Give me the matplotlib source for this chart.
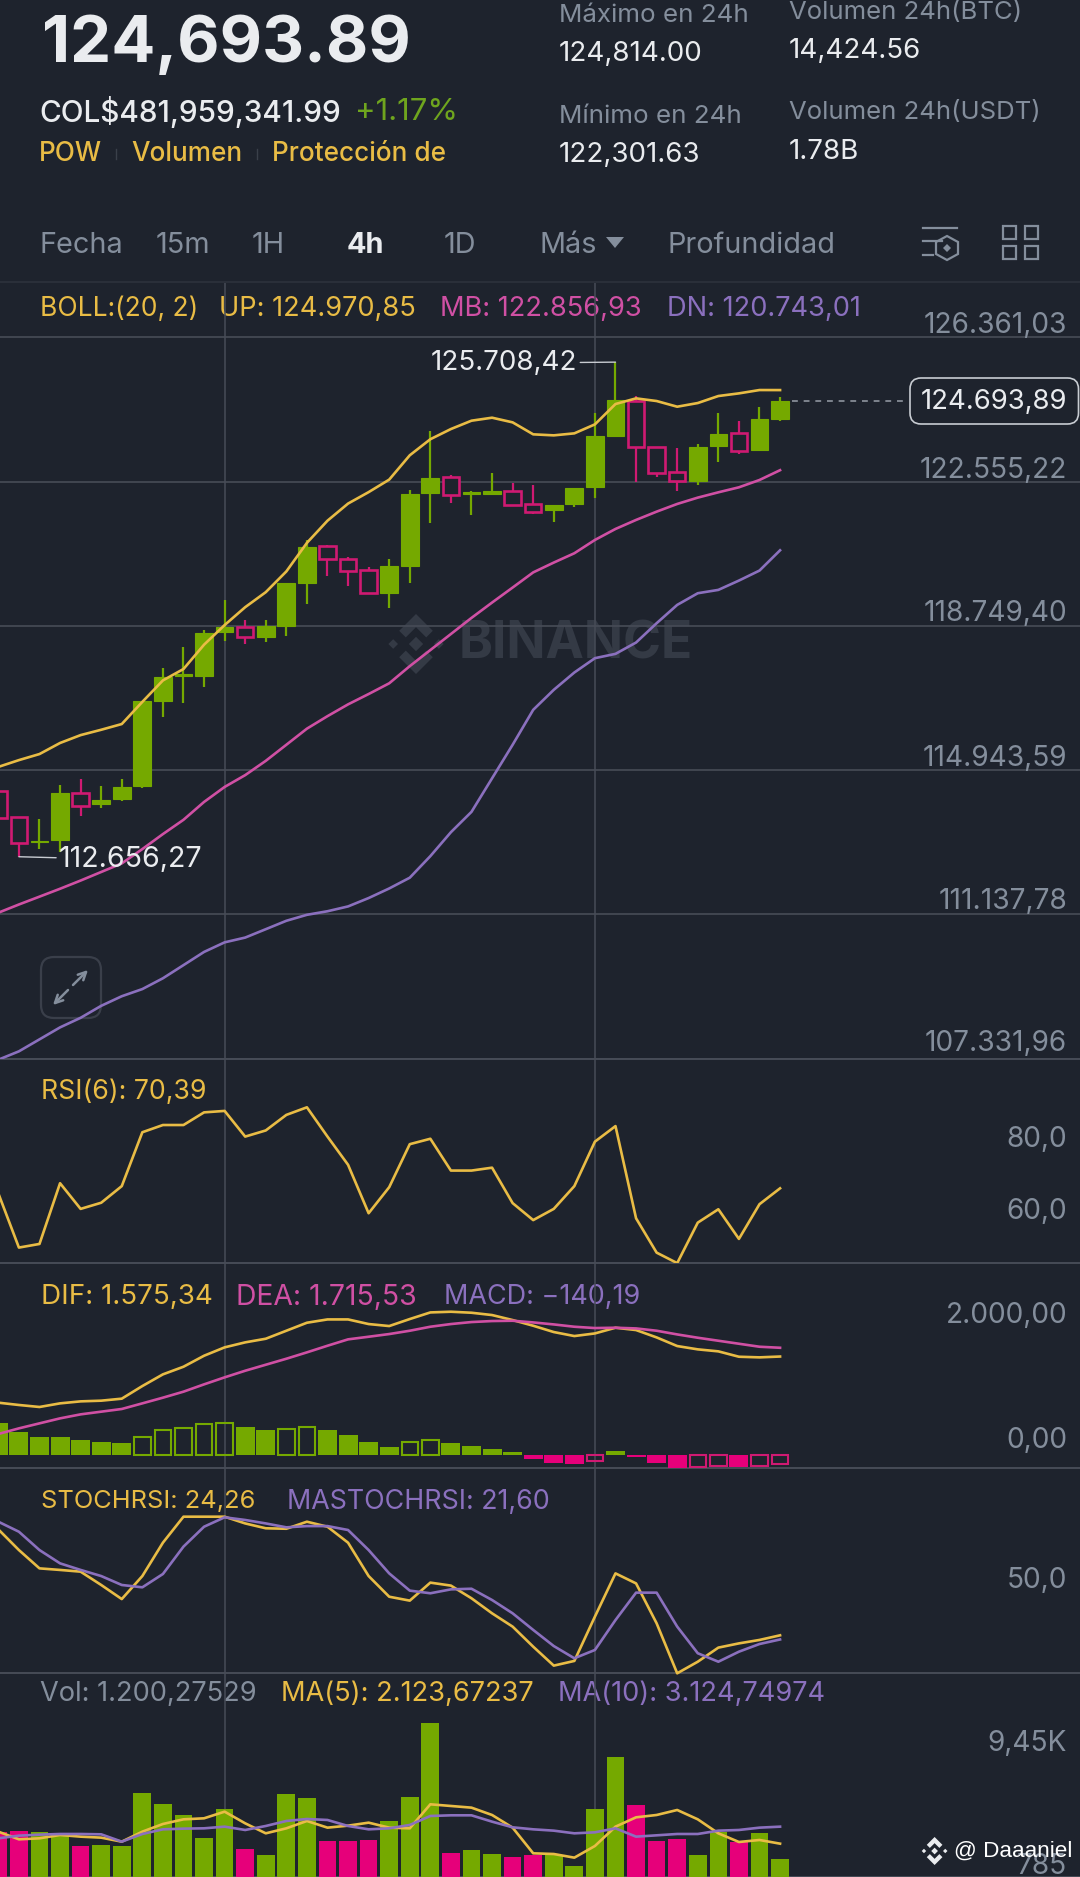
import numpy as np
import matplotlib
matplotlib.use("Agg")
import matplotlib.pyplot as plt
from matplotlib.patches import FancyBboxPatch, Polygon, Rectangle

plt.rcParams["font.family"] = ["Inter", "DejaVu Sans"]

W, H = 1080, 1877
BG = "#1E232D"
GRID = "#474C57"
GRAY = "#848E9C"
WHITE = "#EAECEF"
YELLOW = "#E9BC45"
PINK = "#D050A4"
PURPLE = "#8B70BE"
UP = "#75A900"
DOWN = "#E6007A"
DOWN_EDGE = "#CF1A72"

# candles, oldest first
opens = [114385, 113706, 113037, 113093, 114338, 114036, 114168, 114517, 116771, 117422,
         117422, 118582, 118723, 118468, 118742, 119892, 120845, 120515, 120232, 119619,
         120317, 122250, 122665, 122231, 122231, 122306, 121976, 121799, 121966, 122405,
         123768, 124682, 123477, 122801, 122581, 123486, 123838, 123390, 124216]
closes = [113678, 113018, 113084, 114329, 114008, 114150, 114508, 116771, 117393, 117469,
          118572, 118723, 118459, 118742, 119883, 120817, 120505, 120185, 119610, 120317,
          122240, 122646, 122193, 122278, 122297, 121929, 121741, 121948, 122388, 123759,
          124699, 123460, 122774, 122572, 123469, 123820, 123354, 124198, 124693.89]
highs = [114385, 113706, 113650, 114555, 114715, 114536, 114715, 116771, 117639, 118186,
         118629, 119430, 118893, 118912, 119883, 121005, 120892, 120553, 120298, 120515,
         122335, 123881, 122721, 122306, 122778, 122523, 122476, 121948, 122388, 124356,
         125708.42, 124814, 123477, 123434, 123539, 124356, 124154, 124515, 124796]
lows = [113678, 112656.27, 112858, 112782, 113744, 113952, 114121, 114480, 116347, 116715,
        117139, 118346, 118270, 118327, 118487, 119336, 120062, 119798, 119591, 119232,
        119874, 121458, 121986, 121665, 122193, 121910, 121694, 121500, 121878, 122133,
        123741, 122555, 122686, 122300, 122467, 123082, 123284, 123390, 124163]

boll_up = [115027, 115206, 115366, 115658, 115866, 116007, 116158, 116743, 117309, 117610,
           118252, 118770, 119242, 119638, 120185, 120939, 121524, 121976, 122278, 122608,
           123250, 123674, 123943, 124163, 124242, 124119, 123803, 123776, 123829, 124066,
           124603, 124752, 124682, 124532, 124629, 124814, 124884, 124972, 124970.85]
boll_mb = [111179, 111396, 111603, 111811, 112028, 112254, 112480, 112858, 113254, 113631,
           114102, 114498, 114810, 115187, 115611, 116036, 116366, 116677, 116950, 117233,
           117686, 118110, 118534, 118959, 119364, 119760, 120160, 120419, 120665, 121016,
           121306, 121544, 121763, 121966, 122133, 122273, 122405, 122598, 122856.93]
boll_dn = [107300, 107521, 107837, 108153, 108406, 108722, 108975, 109164, 109449, 109796,
           110144, 110397, 110523, 110744, 110966, 111124, 111218, 111345, 111566, 111819,
           112103, 112672, 113304, 113841, 114726, 115611, 116533, 117061, 117518, 117896,
           118010, 118309, 118819, 119302, 119610, 119698, 119944, 120208, 120743.01]
price_grid = [126361.03, 122555.22, 118749.40, 114943.59, 111137.78, 107331.96]

rsi = [69.0, 54.0, 55.0, 71.8, 64.7, 66.4, 71.0, 85.9, 87.9, 87.9,
       91.4, 91.8, 84.7, 86.4, 90.7, 92.8, 84.7, 76.9, 63.5, 70.7,
       82.6, 84.1, 75.3, 75.3, 76.1, 66.3, 61.6, 64.7, 71.0, 83.3,
       87.6, 62.1, 52.6, 49.7, 60.9, 64.6, 56.4, 66.0, 70.39]

dif = [837, 800, 768, 826, 858, 869, 901, 1103, 1290, 1412,
       1588, 1722, 1802, 1860, 1988, 2116, 2169, 2169, 2095, 2063,
       2175, 2281, 2292, 2276, 2239, 2159, 2068, 1967, 1903, 1945,
       2036, 1999, 1881, 1743, 1690, 1658, 1572, 1562, 1575.34]
dea = [336, 426, 506, 586, 650, 693, 736, 826, 917, 1013,
       1130, 1242, 1348, 1444, 1540, 1642, 1748, 1850, 1892, 1935,
       1988, 2052, 2095, 2127, 2143, 2148, 2121, 2089, 2052, 2031,
       2036, 2025, 1988, 1929, 1876, 1828, 1780, 1732, 1715.53]
macd = [506, 373, 282, 282, 235, 203, 187, 293, 400, 432,
        496, 506, 453, 400, 416, 442, 394, 320, 203, 133,
        203, 240, 197, 144, 91, 43, -69, -133, -144, -101,
        64, -37, -133, -213, -197, -176, -197, -176, -140.19]

stoch = [91.9, 78.7, 67.0, 66.0, 64.9, 56.4, 47.4, 62.1, 83.4, 100,
         100, 100, 95.7, 92.6, 92.3, 96.8, 93.6, 83.4, 62.1, 48.9,
         46.4, 57.9, 56.0, 47.9, 38.3, 29.8, 17.0, 4.9, 7.9, 36.2,
         63.8, 57.4, 31.9, 0, 7.4, 16.4, 19.1, 21.3, 24.26]
mastoch = [96.8, 90.4, 78.7, 70.2, 66.0, 62.1, 56.4, 54.9, 63.4, 80.9,
           93.6, 99.6, 97.9, 95.7, 93.2, 94.0, 94.0, 91.5, 78.7, 63.8,
           52.8, 51.1, 53.6, 54.0, 46.8, 38.3, 27.7, 17.4, 9.6, 14.9,
           34.0, 51.5, 51.5, 29.8, 12.8, 7.4, 13.8, 18.7, 21.60]

volume = [3123, 3194, 3099, 2886, 2102, 2173, 2126, 5901, 5093, 4286,
          2648, 4714, 1865, 1485, 5782, 5521, 2458, 2458, 2506, 3859,
          5592, 10886, 1580, 1817, 1556, 1295, 1461, 1461, 701, 4737,
          8417, 5046, 2434, 2577, 1437, 3075, 2411, 3052, 1200.28]
vol_ma5 = [3123, 2577, 2648, 2886, 2767, 2696, 2411, 3123, 3669, 4001,
           4073, 4547, 3716, 3004, 3360, 3883, 3408, 3550, 3764, 3408,
           3360, 5070, 4951, 4832, 4310, 3408, 1580, 1532, 1271, 2102,
           3479, 4144, 4310, 4666, 4001, 3004, 2387, 2529, 2268]
vol_ma10 = [2648, 2838, 2909, 2957, 2957, 2933, 2411, 2957, 3289, 3337,
            3360, 3479, 3242, 3527, 3883, 4025, 3954, 3527, 3289, 3360,
            3598, 4239, 4286, 4286, 3835, 3432, 3289, 3194, 3004, 3075,
            3360, 2767, 2862, 2957, 2957, 3194, 3242, 3408, 3479]

x = np.arange(len(closes))
XLIM = (0.081, 52.58)
PX = 1 / 1.389  # points per pixel at dpi 100
CROSS = [11, 29]
LINE = 1.9


def es(value, digits=2):
    return f"{value:,.{digits}f}".replace(",", "#").replace(".", ",").replace("#", ".")


def panel(top, bottom, ylim):
    ax = fig.add_axes([0, 1 - bottom / H, 1, (bottom - top) / H], zorder=2)
    ax.patch.set_alpha(0)
    ax.set_xlim(*XLIM)
    ax.set_ylim(*ylim)
    ax.set_xticks(CROSS)
    ax.set_yticks([])
    ax.tick_params(length=0, labelbottom=False, labelleft=False)
    ax.grid(True, axis="x", color=GRID, linewidth=1.1, zorder=0)
    ax.set_axisbelow(True)
    for name, spine in ax.spines.items():
        spine.set_visible(name == "bottom")
        spine.set_color(GRID)
        spine.set_linewidth(1.4)
    return ax


def axis_label(ax, value, text, offset_px):
    ax.annotate(text, xy=(1, value), xycoords=ax.get_yaxis_transform(),
                xytext=(-13 * PX, (offset_px - 3) * PX), textcoords="offset points",
                ha="right", va="center", color=GRAY, fontsize=20.2, zorder=6)


def put(ax, px, py, text, color, size=19.6, **kw):
    kw.setdefault("va", "center")
    ax.text(px, py + 2, text, color=color, fontsize=size, **kw)


def logo(ax, cx, cy, r, color, zorder=1):
    # five part diamond mark
    def diamond(dx, dy, s):
        return [(cx + dx, cy + dy - s), (cx + dx + s, cy + dy), (cx + dx, cy + dy + s), (cx + dx - s, cy + dy)]
    for dx, dy, s in [(0, 0, 0.24), (-0.76, 0, 0.16), (0.76, 0, 0.16)]:
        ax.add_patch(Polygon(diamond(dx * r, dy * r, s * r), color=color, lw=0, zorder=zorder))
    for sign in (-1, 1):
        pts = [(0, 1), (0.56, 0.44), (0.34, 0.22), (0, 0.56), (-0.34, 0.22), (-0.56, 0.44)]
        ax.add_patch(Polygon([(cx + a * r, cy + sign * b * r) for a, b in pts], color=color, lw=0, zorder=zorder))


fig = plt.figure(figsize=(W / 100, H / 100), dpi=100, facecolor=BG)

# header, toolbar, legends and watermark, under the chart
back = fig.add_axes([0, 0, 1, 1], zorder=0)
back.set_xlim(0, W)
back.set_ylim(H, 0)
back.axis("off")
back.set_facecolor(BG)

put(back, 42, 43, "124,693.89", WHITE, 47, fontweight="bold")
put(back, 39, 110, "COL$481,959,341.99", WHITE, 21.4, fontweight="medium")
put(back, 355, 110, "+1.17%", "#6FA51E", 22.4)
put(back, 39, 152, "POW", YELLOW, 18.8, fontweight="medium")
put(back, 131, 152, "Volumen", YELLOW, 18.8, fontweight="medium")
put(back, 272, 152, "Protección de", YELLOW, 18.8, fontweight="medium")
for sep in (116, 257):
    back.plot([sep, sep], [149, 159], color="#3A404A", lw=1)

for px, py, text, color, size in [(559, 13, "Máximo en 24h", GRAY, 18.7), (559, 52, "124,814.00", WHITE, 20),
                                  (789, 10, "Volumen 24h(BTC)", GRAY, 18.5), (789, 49, "14,424.56", WHITE, 20),
                                  (559, 114, "Mínimo en 24h", GRAY, 18.7), (559, 153, "122,301.63", WHITE, 20),
                                  (789, 110, "Volumen 24h(USDT)", GRAY, 18.5), (789, 150, "1.78B", WHITE, 20)]:
    put(back, px, py, text, color, size)

for px, text in [(39, "Fecha"), (156, "15m"), (252, "1H"), (444, "1D"), (540, "Más"), (668, "Profundidad")]:
    put(back, px, 243, text, GRAY, 20.8)
put(back, 347, 243, "4h", WHITE, 20.8, fontweight="bold")
back.add_patch(Polygon([(606, 237), (624, 237), (615, 248)], color=GRAY, lw=0))

# toolbar icons
back.plot([923, 957], [228, 228], color=GRAY, lw=1.6)
back.plot([923, 942], [241, 241], color=GRAY, lw=1.6)
back.plot([923, 933], [255, 255], color=GRAY, lw=1.6)
back.add_patch(Polygon([(947, 236), (958, 242), (958, 254), (947, 260), (936, 254), (936, 242)],
                       fill=False, ec=GRAY, lw=1.6))
back.add_patch(Polygon([(947, 244), (951, 248), (947, 252), (943, 248)], color=GRAY, lw=0))
for gx in (1003, 1025):
    for gy in (226, 246):
        back.add_patch(Rectangle((gx, gy), 13, 13, fill=False, ec=GRAY, lw=1.6))

back.plot([0, W], [282, 282], color="#2D323C", lw=1.2)

put(back, 40, 307, "BOLL:(20, 2)", YELLOW, 19)
put(back, 219, 307, "UP: 124.970,85", YELLOW)
put(back, 440, 307, "MB: 122.856,93", PINK)
put(back, 667, 307, "DN: 120.743,01", PURPLE)
put(back, 41, 1090, "RSI(6): 70,39", YELLOW, 19.2)
put(back, 41, 1295, "DIF: 1.575,34", YELLOW, 20)
put(back, 236, 1295, "DEA: 1.715,53", PINK, 20.4)
put(back, 444, 1295, "MACD: −140,19", PURPLE, 19.4)
put(back, 41, 1500, "STOCHRSI: 24,26", YELLOW, 18.3)
put(back, 287, 1500, "MASTOCHRSI: 21,60", PURPLE, 19.3)
put(back, 40, 1692, "Vol: 1.200,27529", GRAY)
put(back, 281, 1692, "MA(5): 2.123,67237", YELLOW)
put(back, 558, 1692, "MA(10): 3.124,74974", PURPLE)

logo(back, 416, 644, 30, "#343A45")
put(back, 459, 643, "BINANCE", "#343A45", 37, fontweight="bold")

back.add_patch(FancyBboxPatch((41, 957), 60, 61, boxstyle="round,pad=0,rounding_size=13",
                              fill=False, ec="#3A3F4A", lw=1.6))
for start, end in [((68, 990), (53, 1005)), ((73, 985), (88, 970))]:
    back.annotate("", xy=end, xytext=start,
                  arrowprops=dict(arrowstyle="->", color=GRAY, lw=1.8, shrinkA=0, shrinkB=0, mutation_scale=14))

# price panel
ax = panel(283, 1058.5, (107331.96, 127796.6))
ax.set_yticks(price_grid)
ax.grid(True, axis="y", color=GRID, linewidth=1.2, zorder=0)
ax.vlines(x, lows, highs, colors=[UP if c >= o else DOWN_EDGE for o, c in zip(opens, closes)],
          linewidth=1.6, zorder=3)
for i, (o, c) in enumerate(zip(opens, closes)):
    bottom, height = min(o, c), abs(c - o)
    if c >= o:
        ax.bar(i, height, 0.86, bottom=bottom, color=UP, edgecolor=UP, linewidth=0.8, zorder=4)
    else:
        ax.bar(i, height, 0.8, bottom=bottom, facecolor=BG, edgecolor=DOWN_EDGE, linewidth=1.9, zorder=4)
ax.plot(x, boll_up, color=YELLOW, lw=LINE, zorder=5)
ax.plot(x, boll_mb, color=PINK, lw=LINE, zorder=5)
ax.plot(x, boll_dn, color=PURPLE, lw=LINE, zorder=5)
for value, offset in zip(price_grid, [14.5, 14.5, 15, 14.5, 16, 18]):
    axis_label(ax, value, es(value), offset)

ax.annotate(es(max(highs)), xy=(x[np.argmax(highs)], max(highs)), xytext=(-38 * PX, -1 * PX), textcoords="offset points",
            ha="right", va="center", color=WHITE, fontsize=20, zorder=7,
            arrowprops=dict(arrowstyle="-", color="#C8CCD2", lw=1, shrinkA=0, shrinkB=0))
ax.annotate(es(min(lows)), xy=(x[np.argmin(lows)], min(lows)), xytext=(40 * PX, -3 * PX), textcoords="offset points",
            ha="left", va="center", color=WHITE, fontsize=20.6, zorder=7,
            arrowprops=dict(arrowstyle="-", color="#C8CCD2", lw=1, shrinkA=0, shrinkB=0))
ax.hlines(closes[-1], x[-1] + 0.6, 44.2, colors="#8E949E", linewidth=1.2, linestyles=(0, (3.5, 3.5)), zorder=3)

# rsi panel
ax = panel(1058.5, 1263.3, (49.65, 106.3))
ax.plot(x, rsi, color=YELLOW, lw=LINE, zorder=5)
axis_label(ax, 80, "80,0", 17)
axis_label(ax, 60, "60,0", 17)

# macd panel
ax = panel(1263.3, 1468.3, (-213, 3067))
for i, value in enumerate(macd):
    color = UP if value >= 0 else DOWN
    # hollow while the histogram is rising on the same side of zero
    if i > 0 and value > macd[i - 1] and value * macd[i - 1] > 0:
        edge = UP if value >= 0 else DOWN_EDGE
        ax.bar(i, value, 0.8, facecolor="none", edgecolor=edge, linewidth=1.5, zorder=3)
    else:
        ax.bar(i, value, 0.92, color=color, linewidth=0, zorder=3)
ax.plot(x, dif, color=YELLOW, lw=LINE, zorder=5)
ax.plot(x, dea, color=PINK, lw=LINE, zorder=5)
axis_label(ax, 2000, "2.000,00", 17)
axis_label(ax, 0, "0,00", 17)

# stochrsi panel
ax = panel(1468.3, 1673.3, (0, 130.9))
ax.plot(x, stoch, color=YELLOW, lw=LINE, zorder=5, clip_on=False)
ax.plot(x, mastoch, color=PURPLE, lw=LINE, zorder=5)
axis_label(ax, 50, "50,0", 17)

# volume panel
VOL_MIN = -106
ax = panel(1673.3, H, (VOL_MIN, 14399))
colors = [UP if c >= o else DOWN for o, c in zip(opens, closes)]
ax.bar(x, np.array(volume) - VOL_MIN, 0.86, bottom=VOL_MIN, color=colors, linewidth=0, zorder=3)
ax.plot(x, vol_ma5, color=YELLOW, lw=LINE, zorder=5)
ax.plot(x, vol_ma10, color=PURPLE, lw=LINE, zorder=5)
axis_label(ax, 9450, "9,45K", 2)
axis_label(ax, 785, "785", 1)

# last price tag and username, on top of everything
front = fig.add_axes([0, 0, 1, 1], zorder=5)
front.set_xlim(0, W)
front.set_ylim(H, 0)
front.axis("off")
front.patch.set_alpha(0)
front.add_patch(FancyBboxPatch((910, 378), 168.5, 46, boxstyle="round,pad=0,rounding_size=11",
                               facecolor=BG, edgecolor="#C8CCD2", lw=1.2))
put(front, 994, 400, es(closes[-1]), WHITE, 19.8, ha="center")
logo(front, 934.6, 1851, 14, WHITE)
front.text(954, 1851, "@ Daaaniel", color="white", fontsize=16.2, va="center", family=["Liberation Sans", "DejaVu Sans"])

fig.savefig("out.png", dpi=100, facecolor=BG)
